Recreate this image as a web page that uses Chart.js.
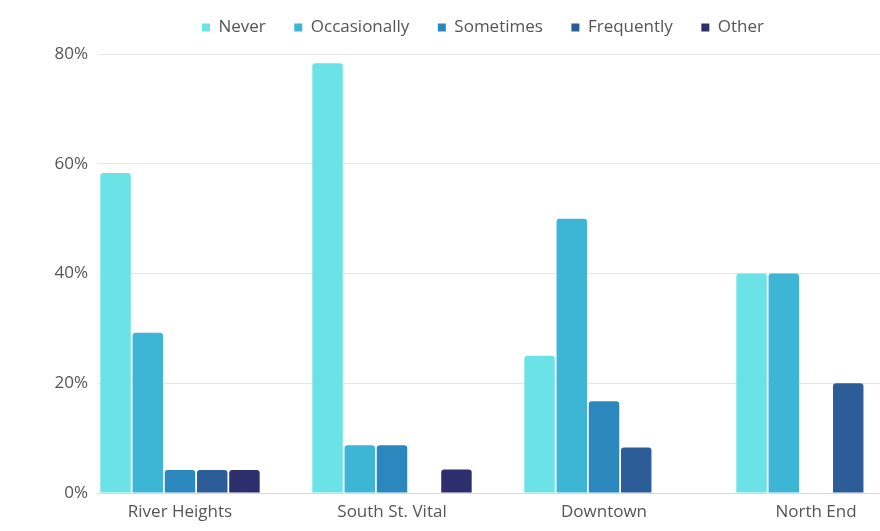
<!DOCTYPE html>
<html>
<head>
<meta charset="utf-8">
<script src="https://cdn.jsdelivr.net/npm/chart.js@4.4.1/dist/chart.umd.min.js"></script>
<style>
  html, body { margin: 0; padding: 0; background: #ffffff; overflow: hidden; }
  #wrap { width: 966px; height: 531px; }
</style>
</head>
<body>
<div id="wrap"><canvas id="c" width="966" height="531"></canvas></div>
<script>
const categories = ["River Heights", "South St. Vital", "Downtown", "North End"];
const seriesNames = ["Never", "Occasionally", "Sometimes", "Frequently", "Other"];
const never        = [58.3, 78.3, 25.0, 40.0];
const occasionally = [29.2,  8.7, 50.0, 40.0];
const sometimes    = [ 4.2,  8.7, 16.7,  0.0];
const frequently   = [ 4.2,  0.0,  8.3, 20.0];
const other        = [ 4.2,  4.3,  0.0,  0.0];
const yTicks = [0, 20, 40, 60, 80];
const colors = ["#6be3e6", "#3db6d5", "#2a88be", "#2c5d98", "#2c2f6c"];

const seriesValues = [never, occasionally, sometimes, frequently, other];

const datasets = seriesNames.map((name, s) => ({
  label: name,
  data: seriesValues[s].map((v, i) => ({ x: i, y: v })),
  backgroundColor: colors[s],
  borderWidth: 0,
  borderRadius: 3,
  borderSkipped: 'start',
  categoryPercentage: 0.76,
  barPercentage: 0.945
}));

const legendFitPlugin = {
  id: 'legendFit',
  beforeLayout(chart) {
    const lg = chart.legend;
    if (lg && !lg._patched) {
      const orig = lg.fit.bind(lg);
      lg.fit = function () { orig(); this.height = 63.5; };
      lg._patched = true;
    }
  }
};

new Chart(document.getElementById('c'), {
  type: 'bar',
  data: { datasets },
  plugins: [legendFitPlugin],
  options: {
    responsive: false,
    animation: false,
    layout: { padding: { top: -9.5, left: 0, right: 0, bottom: 0 } },
    plugins: {
      legend: {
        position: 'top',
        align: 'center',
        labels: {
          boxWidth: 8,
          boxHeight: 8,
          padding: 28.5,
          color: '#555555',
          font: { family: 'Open Sans', size: 17 }
        }
      },
      tooltip: { enabled: false }
    },
    scales: {
      x: {
        type: 'linear',
        offset: false,
        min: -0.3868,
        max: 3.7075,
        afterBuildTicks(scale) {
          scale.ticks = categories.map((_, i) => ({ value: i }));
        },
        afterFit(scale) { scale.height = 38; },
        grid: { display: false, drawTicks: false, offset: false },
        border: { display: false },
        ticks: {
          autoSkip: false,
          maxRotation: 0,
          padding: 9,
          color: '#555555',
          font: { family: 'Open Sans', size: 17 },
          callback: (v) => categories[v] !== undefined ? categories[v] : ''
        }
      },
      y: {
        min: 0,
        max: 80,
        afterBuildTicks(scale) {
          scale.ticks = yTicks.map(v => ({ value: v }));
        },
        afterFit(scale) { scale.width = 98; },
        grid: {
          drawTicks: false,
          color: (ctx) => ctx.tick && ctx.tick.value === 0 ? '#d9d9d9' : '#e6e6e6',
          lineWidth: 1
        },
        border: { display: false },
        ticks: {
          padding: 10,
          color: '#555555',
          font: { family: 'Open Sans', size: 17 },
          callback: (v) => v + '%'
        }
      }
    }
  }
});
</script>
</body>
</html>
